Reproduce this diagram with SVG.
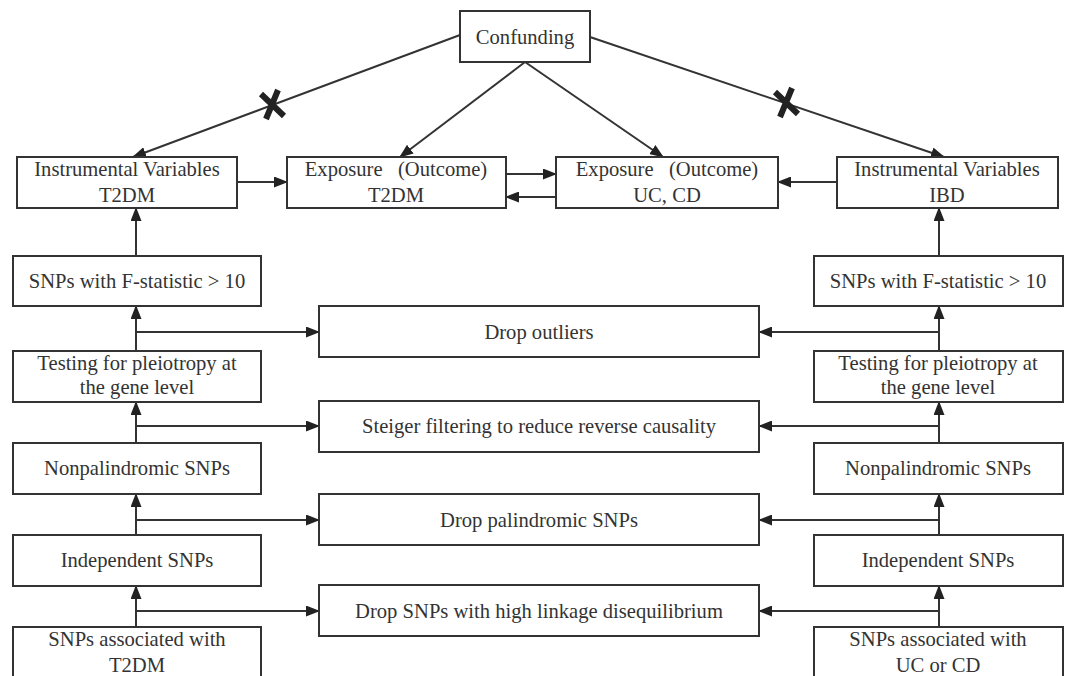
<svg xmlns="http://www.w3.org/2000/svg" width="1067" height="676" viewBox="0 0 1067 676">
<defs>
<marker id="ah" markerUnits="userSpaceOnUse" markerWidth="14" markerHeight="11" refX="13" refY="5.5" orient="auto">
<path d="M0,0 L14,5.5 L0,11 z" fill="#222"/>
</marker>
<style>
.box{fill:#fff;stroke:#333;stroke-width:2}
.t{font-family:"Liberation Serif","Times New Roman",serif;font-size:20.6px;fill:#333;text-anchor:middle}
.c{fill:none;stroke:#333;stroke-width:2;marker-end:url(#ah)}
.x{fill:none;stroke:#222;stroke-width:6;stroke-linecap:butt}
</style>
</defs>
<rect width="1067" height="676" fill="#fff"/>
<g id="connectors">
<path class="c" d="M460,35 L133,157"/>
<path class="c" d="M525,62 L400,157"/>
<path class="c" d="M525,62 L663,157"/>
<path class="c" d="M590,37 L944,157"/>
<path class="x" d="M261,94 L284,116 M266,119 L278,90"/>
<path class="x" d="M775,92 L798,114 M780,117 L792,88"/>
<path class="c" d="M237,182 L287,182"/>
<path class="c" d="M506,174 L556,174"/>
<path class="c" d="M556,197 L506,197"/>
<path class="c" d="M837,182 L778,182"/>
<path class="c" d="M136,256 L136,208"/>
<path class="c" d="M136,351 L136,306"/>
<path class="c" d="M136,443 L136,402"/>
<path class="c" d="M136,535 L136,494"/>
<path class="c" d="M136,627 L136,586"/>
<path class="c" d="M136,332 L319,332"/>
<path class="c" d="M136,426 L319,426"/>
<path class="c" d="M136,520 L319,520"/>
<path class="c" d="M136,611 L319,611"/>
<path class="c" d="M939,256 L939,208"/>
<path class="c" d="M939,351 L939,306"/>
<path class="c" d="M939,443 L939,402"/>
<path class="c" d="M939,535 L939,494"/>
<path class="c" d="M939,627 L939,586"/>
<path class="c" d="M939,332 L759,332"/>
<path class="c" d="M939,426 L759,426"/>
<path class="c" d="M939,520 L759,520"/>
<path class="c" d="M939,611 L759,611"/>
</g>
<g id="confunding"><rect class="box" x="460" y="11" width="130" height="51"/><text class="t" x="525" y="44">Confunding</text></g>
<g id="iv-t2dm"><rect class="box" x="17" y="157" width="220" height="51"/><text class="t" x="127" y="176">Instrumental Variables</text><text class="t" x="127" y="202">T2DM</text></g>
<g id="exp-t2dm"><rect class="box" x="287" y="157" width="219" height="51"/><text class="t" x="396" y="176">Exposure&#160;&#160; (Outcome)</text><text class="t" x="396" y="202">T2DM</text></g>
<g id="exp-uccd"><rect class="box" x="556" y="157" width="222" height="51"/><text class="t" x="667" y="176">Exposure&#160;&#160; (Outcome)</text><text class="t" x="667" y="202">UC, CD</text></g>
<g id="iv-ibd"><rect class="box" x="837" y="157" width="221" height="51"/><text class="t" x="947" y="176">Instrumental Variables</text><text class="t" x="947" y="202">IBD</text></g>
<g id="fstat-left"><rect class="box" x="13" y="256" width="248" height="50"/><text class="t" x="137" y="288">SNPs with F-statistic &gt; 10</text></g>
<g id="pleio-left"><rect class="box" x="13" y="351" width="248" height="51"/><text class="t" x="137" y="370">Testing for pleiotropy at</text><text class="t" x="137" y="394">the gene level</text></g>
<g id="nonpal-left"><rect class="box" x="13" y="443" width="248" height="51"/><text class="t" x="137" y="475">Nonpalindromic SNPs</text></g>
<g id="indep-left"><rect class="box" x="13" y="535" width="248" height="51"/><text class="t" x="137" y="567">Independent SNPs</text></g>
<g id="assoc-left"><rect class="box" x="13" y="627" width="248" height="60"/><text class="t" x="137" y="646">SNPs associated with</text><text class="t" x="137" y="672">T2DM</text></g>
<g id="fstat-right"><rect class="box" x="814" y="256" width="249" height="50"/><text class="t" x="938" y="288">SNPs with F-statistic &gt; 10</text></g>
<g id="pleio-right"><rect class="box" x="814" y="351" width="249" height="51"/><text class="t" x="938" y="370">Testing for pleiotropy at</text><text class="t" x="938" y="394">the gene level</text></g>
<g id="nonpal-right"><rect class="box" x="814" y="443" width="249" height="51"/><text class="t" x="938" y="475">Nonpalindromic SNPs</text></g>
<g id="indep-right"><rect class="box" x="814" y="535" width="249" height="51"/><text class="t" x="938" y="567">Independent SNPs</text></g>
<g id="assoc-right"><rect class="box" x="814" y="627" width="249" height="60"/><text class="t" x="938" y="646">SNPs associated with</text><text class="t" x="938" y="672">UC or CD</text></g>
<g id="drop-outliers"><rect class="box" x="319" y="306" width="440" height="51"/><text class="t" x="539" y="339">Drop outliers</text></g>
<g id="steiger"><rect class="box" x="319" y="401" width="440" height="51"/><text class="t" x="539" y="433">Steiger filtering to reduce reverse causality</text></g>
<g id="drop-palin"><rect class="box" x="319" y="494" width="440" height="51"/><text class="t" x="539" y="527">Drop palindromic SNPs</text></g>
<g id="drop-ld"><rect class="box" x="319" y="585" width="440" height="51"/><text class="t" x="539" y="618">Drop SNPs with high linkage disequilibrium</text></g>
</svg>
